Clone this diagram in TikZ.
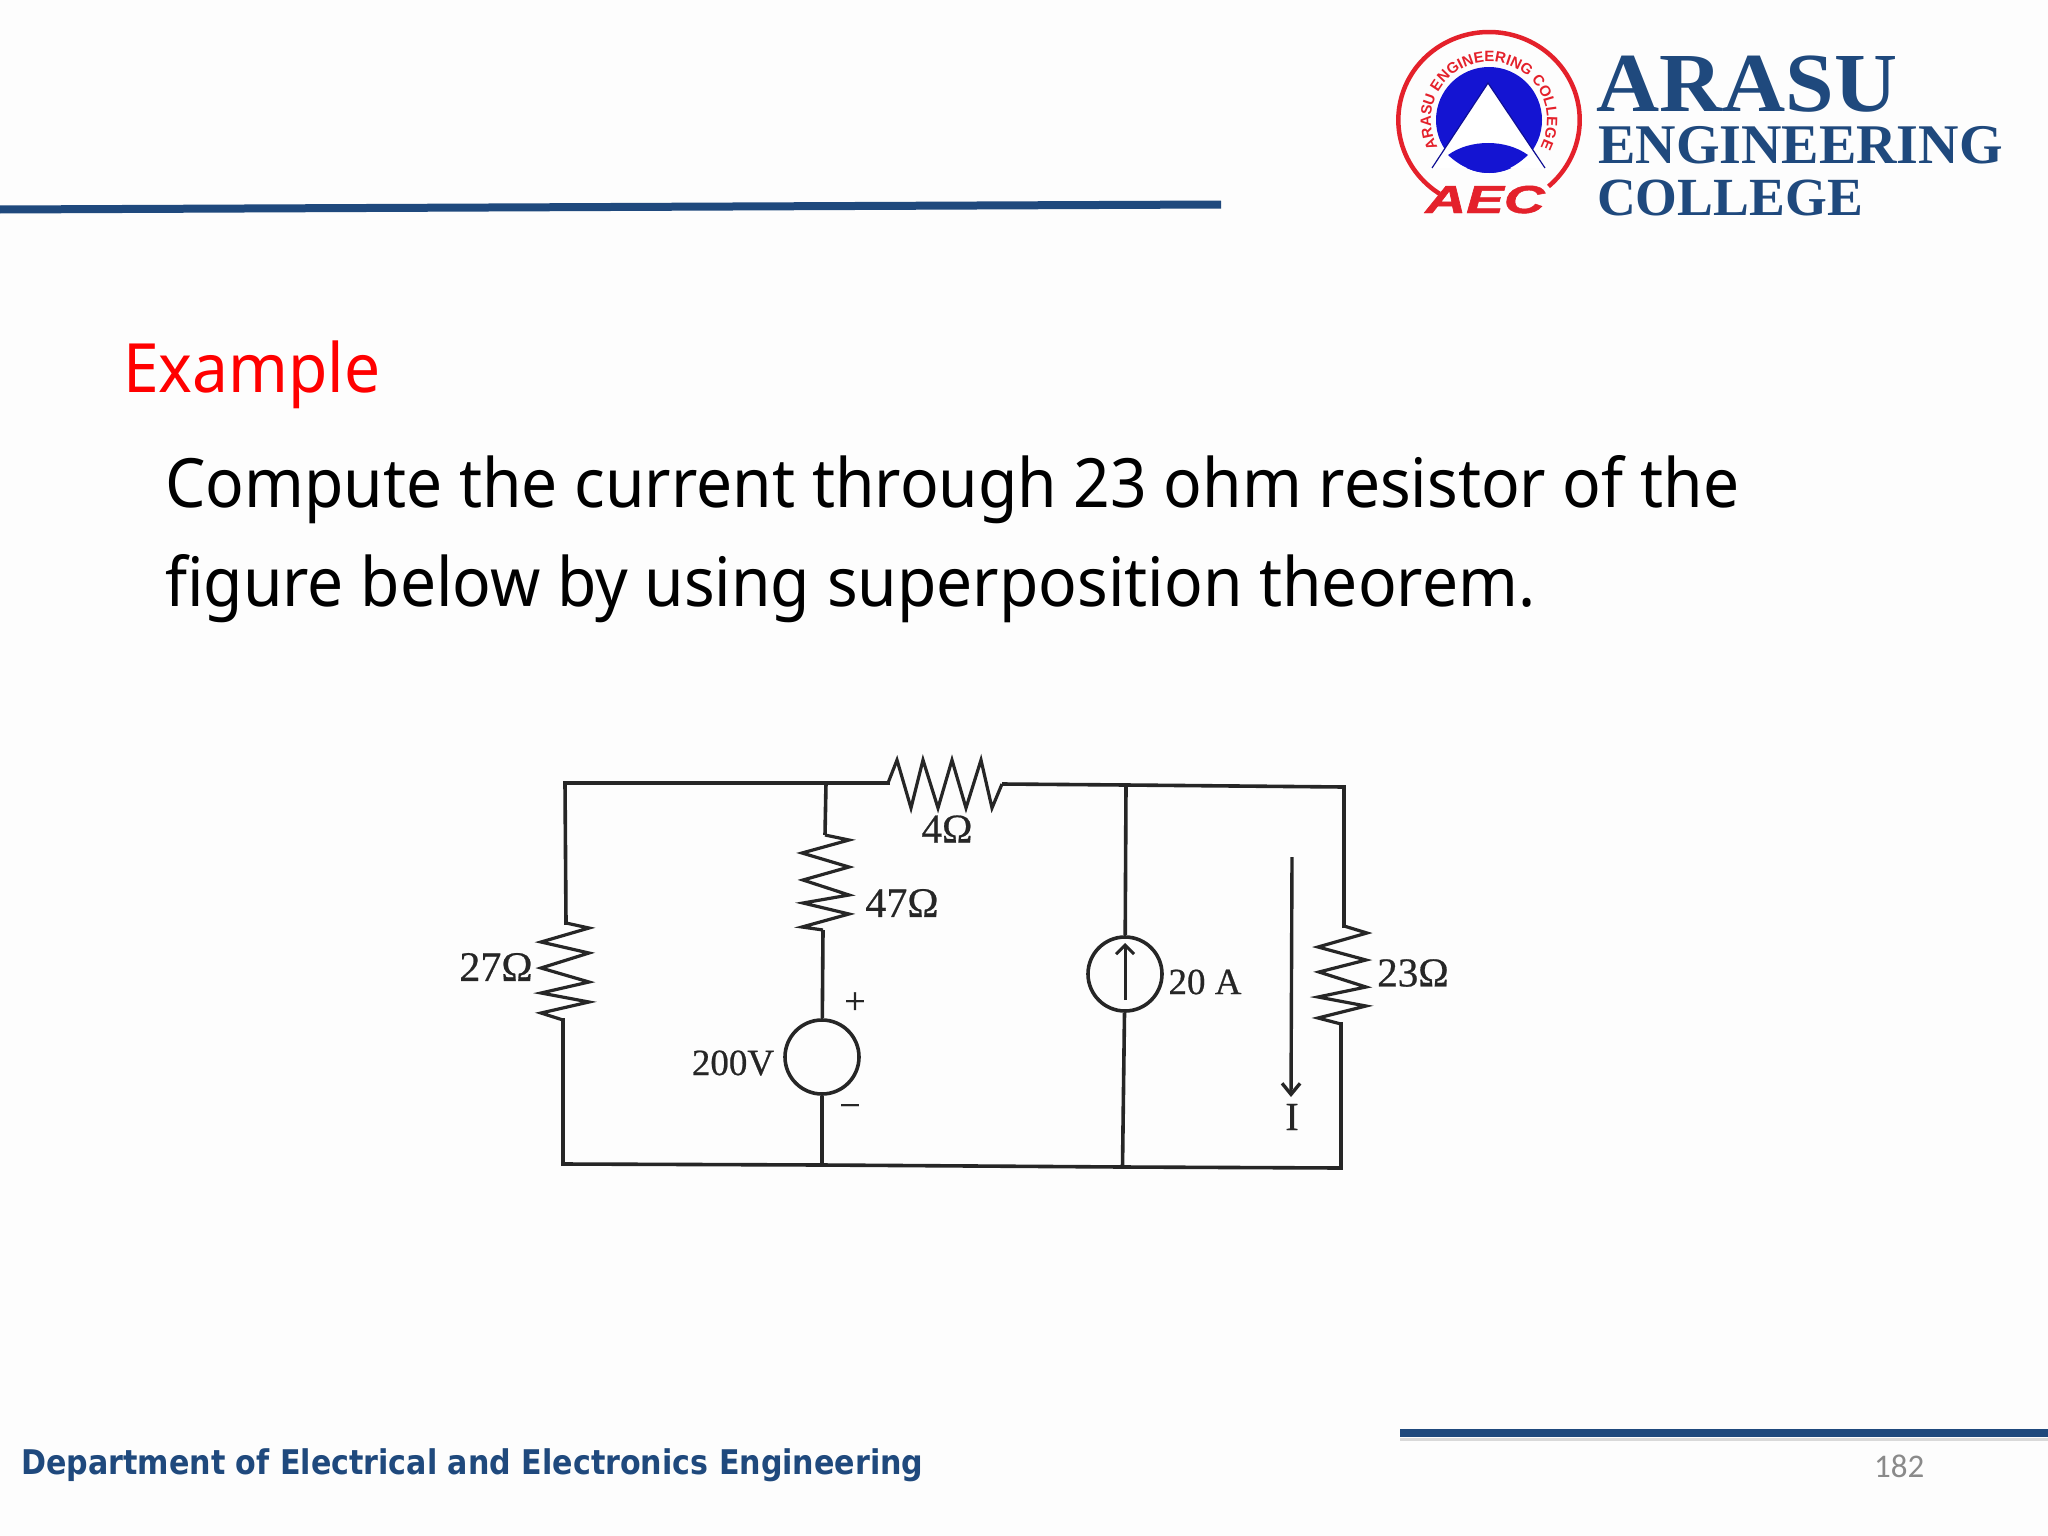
\documentclass[tikz,border=0pt]{standalone}
\usepackage{fontspec}
\setmainfont{Liberation Serif}
\newfontfamily\bodyfont[FakeStretch=0.942]{Noto Sans}
\newfontfamily\deptfont[FakeStretch=0.886]{DejaVu Sans}
\newfontfamily\pagefont{Carlito}
\newfontfamily\logofont{Liberation Sans}
\newfontfamily\aecfont[BoldItalicFeatures={FakeBold=1.2}]{Liberation Sans}
\newfontfamily\circfont[FakeBold=0.6]{Liberation Serif}
\usetikzlibrary{decorations.text,arrows.meta}
\definecolor{navy}{HTML}{1F497D}
\definecolor{logored}{HTML}{E4212B}
\definecolor{logoblue}{HTML}{1414D2}
\definecolor{ink}{HTML}{262626}
\definecolor{paper}{HTML}{FDFDFD}
\definecolor{pagegray}{HTML}{8A8A8A}
\tikzset{
  wire/.style={draw=ink,line width=3.6pt},
  zig/.style={draw=ink,line width=3.2pt,line join=miter},
  srcnode/.style={circle,draw=ink,line width=3.6pt,minimum size=74pt,inner sep=0pt},
  circ/.style={inner sep=0pt,text=ink,font=\circfont\fontsize{#1}{#1}\selectfont},
  circ/.default=41,
  body/.style={inner sep=0pt,anchor=base west,font=\bodyfont\fontsize{68}{68}\selectfont,text=black},
  brand/.style={inner sep=0pt,anchor=base west,text=navy},
  rule/.style={draw=navy,line width=8pt}
}
\begin{document}
\begin{tikzpicture}[x=1pt,y=-1pt]
\useasboundingbox (0,0) rectangle (2048,1536);
\fill[paper] (0,0) rectangle (2048,1536);
% rules
\coordinate (ruleA) at (0,209.5);
\coordinate (ruleB) at (1221,204.5);
\coordinate (ruleC) at (1400,1433);
\coordinate (ruleD) at (2048,1433);
\draw[rule] (ruleA) -- (ruleB);
\draw[draw=black!15,line width=3pt] ([yshift=-6pt]ruleC) -- ([yshift=-6pt]ruleD);
\draw[rule] (ruleC) -- (ruleD);
% logo
\draw[logored,line width=4.5pt,domain=123:409,samples=80,smooth,variable=\t]
  plot ({1489+90.7*cos(\t)},{120+88*sin(\t)});
\fill[logoblue] (1489,120) circle [radius=53];
\fill[white] (1488,83) -- (1545,168) -- (1432,168) -- cycle;
\draw[logoblue!70!black,line width=1.2pt] (1432,168) -- (1488,83) -- (1545,168);
\fill[logoblue] (1448,155) .. controls (1470,139) and (1506,139) .. (1528,155)
  .. controls (1515,167) and (1503,173) .. (1489,173)
  .. controls (1475,173) and (1461,167) .. (1448,155) -- cycle;
\coordinate (ringtext) at ({1489-58*cos(27)},{120+58*sin(27)});
\path[decorate,decoration={text along path,text color=logored,text align=center,
  text={|\logofont\bfseries\fontsize{15}{15}\selectfont|ARASU ENGINEERING COLLEGE}}]
  (ringtext) arc [start angle=207,end angle=-27,x radius=58pt,y radius=58pt];
\node[inner sep=0pt,anchor=base,text=logored] (aec) at (1485,213)
  {\scalebox{1.45}[1]{\aecfont\bfseries\itshape\fontsize{39}{39}\selectfont AEC}};
\node[brand,font=\bfseries] (arasu) at (1596,112) {\scalebox{1.04}[1]{\fontsize{84}{84}\selectfont ARASU}};
\node[brand,font=\bfseries\fontsize{56}{56}\selectfont] (engg) at (1598,164) {ENGINEERING};
\node[brand,font=\bfseries\fontsize{53.7}{53.7}\selectfont] (coll) at (1597,215) {COLLEGE};
% text
\node[body,text=red] (ex) at (123,392) {Example};
\node[body] (l1) at (165,507) {Compute the current through 23 ohm resistor of the};
\node[body] (l2) at (165,606) {figure below by using superposition theorem.};
\node[brand,font=\deptfont\bfseries\fontsize{34}{34}\selectfont] (dept) at (21,1474) {Department of Electrical and Electronics Engineering};
\node[inner sep=0pt,anchor=base west,text=pagegray,font=\pagefont\fontsize{33}{33}\selectfont] (pg) at (1874,1477) {182};
% circuit nodes
\coordinate (tl) at (565,783);
\coordinate (j1) at (826,783);
\coordinate (j2) at (1126,785);
\coordinate (tr) at (1344,787);
\coordinate (bl) at (563,1164);
\coordinate (j3) at (822,1165);
\coordinate (j4) at (1122.5,1167);
\coordinate (br) at (1341,1168);
\coordinate (r4a) at (888,783);
\coordinate (r4b) at (1002,784);
\coordinate (r47a) at (825,835);
\coordinate (r47b) at (823,930);
\coordinate (r27a) at (566,923);
\coordinate (r27b) at (563,1020);
\coordinate (r23a) at (1344,926);
\coordinate (r23b) at (1341,1024);
\node[srcnode] (vs) at (822,1057) {};
\node[srcnode] (cs) at (1125,974) {};
% wires
\draw[wire,line cap=rect] (r27a) -- (tl) -- (j1) -- (r4a);
\draw[wire] (j1) -- (r47a);
\draw[wire] (r47b) -- (vs);
\draw[wire] (vs) -- (j3);
\draw[wire,line cap=rect] (r27b) -- (bl) -- (j3) -- (j4) -- (br) -- (r23b);
\draw[wire] (r4b) -- (j2);
\draw[wire,line cap=rect] (j2) -- (tr) -- (r23a);
\draw[wire] (j2) -- (cs);
\draw[wire] (cs) -- (j4);
% resistors
\draw[zig] (r4a) -- (897,760) -- (911,808) -- (923,760) -- (938,808) -- (952,760) -- (966,808) -- (981,760) -- (992,808) -- (r4b);
\draw[zig] (r47a) -- (849,840) -- (802,853) -- (849,867) -- (803,880) -- (849,895) -- (803,903) -- (849,914) -- (802,927) -- (r47b);
\draw[zig] (r27a) -- (589,928) -- (541,942) -- (589,953) -- (541,968) -- (589,982) -- (541,993) -- (589,1002) -- (541,1013) -- (r27b);
\draw[zig] (r23a) -- (1367,933) -- (1318,947) -- (1366,960) -- (1319,972) -- (1366,987) -- (1318,997) -- (1366,1006) -- (1318,1018) -- (r23b);
% arrows
\coordinate (csA) at (1125,1000);
\coordinate (csB) at (1125,943);
\draw[draw=ink,line width=3pt,-{Straight Barb[length=9pt,width=18pt]}] (csA) -- (csB);
\coordinate (iA) at (1292,857);
\coordinate (iB) at (1291,1097);
\draw[draw=ink,line width=3.4pt,-{Straight Barb[length=11pt,width=18pt]}] (iA) -- (iB);
% labels
\node[circ=41] (l4) at (947,829) {4Ω};
\node[circ=42] (l47) at (902,903) {47Ω};
\node[circ=42] (l27) at (496,967) {27Ω};
\node[circ=37] (l200) at (733,1063) {200V};
\node[circ=38] (lp) at (855,1003) {+};
\node[circ=38] (lm) at (850,1111) {−};
\node[circ=37] (l20) at (1205,982) {20 A};
\node[circ=41] (l23) at (1413,973) {23Ω};
\node[circ=40] (li) at (1292,1117) {I};
\end{tikzpicture}
\end{document}
